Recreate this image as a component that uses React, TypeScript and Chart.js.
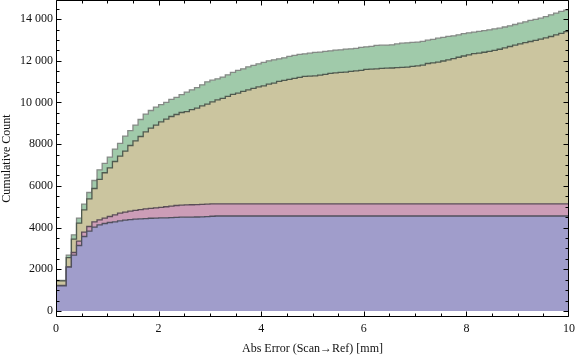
import React, { useEffect, useRef } from "react";
import { Chart, registerables } from "chart.js";

Chart.register(...registerables);

// Bin width 0.1 mm, 100 bins from 0 to 10 mm. Values are stacked cumulative tops.
const binWidth = 0.1;
const xMin = 0;
const xMax = 10;
const yMin = -288;
const yMax = 14916;

const xTicks = [0, 2, 4, 6, 8, 10];
const yTicks = [0, 2000, 4000, 6000, 8000, 10000, 12000, 14000];

const blueTop = [
  1210, 2105, 2680, 3142, 3573, 3832, 4024, 4134, 4197, 4245,
  4278, 4326, 4360, 4385, 4405, 4420, 4435, 4448, 4458, 4465,
  4470, 4478, 4495, 4500, 4503, 4506, 4508, 4515, 4530, 4545,
  4555, 4555, 4555, 4555, 4555, 4555, 4555, 4555, 4555, 4555,
  4555, 4555, 4555, 4555, 4555, 4555, 4555, 4555, 4555, 4555,
  4555, 4555, 4555, 4555, 4555, 4555, 4555, 4555, 4555, 4555,
  4555, 4555, 4555, 4555, 4555, 4555, 4555, 4555, 4555, 4555,
  4555, 4555, 4555, 4555, 4555, 4555, 4555, 4555, 4555, 4555,
  4555, 4555, 4555, 4555, 4555, 4555, 4555, 4555, 4555, 4555,
  4555, 4555, 4555, 4555, 4555, 4555, 4555, 4555, 4555, 4555,
];

const pinkTop = [
  1225, 2120, 2806, 3352, 3784, 4053, 4278, 4370, 4456, 4532,
  4614, 4695, 4743, 4790, 4830, 4865, 4895, 4920, 4945, 4970,
  5000, 5030, 5060, 5075, 5085, 5095, 5105, 5115, 5125, 5135,
  5140, 5140, 5140, 5140, 5140, 5140, 5140, 5140, 5140, 5140,
  5140, 5140, 5140, 5140, 5140, 5140, 5140, 5140, 5140, 5140,
  5140, 5140, 5140, 5140, 5140, 5140, 5140, 5140, 5140, 5140,
  5140, 5140, 5140, 5140, 5140, 5140, 5140, 5140, 5140, 5140,
  5140, 5140, 5140, 5140, 5140, 5140, 5140, 5140, 5140, 5140,
  5140, 5140, 5140, 5140, 5140, 5140, 5140, 5140, 5140, 5140,
  5140, 5140, 5140, 5140, 5140, 5140, 5140, 5140, 5140, 5140,
];

const tanTop = [
  1440, 2560, 3448, 4215, 4853, 5381, 5875, 6315, 6630, 6860,
  7170, 7430, 7670, 7938, 8163, 8370, 8595, 8772, 8916, 9074,
  9204, 9329, 9425, 9520, 9560, 9660, 9730, 9842, 9922, 10034,
  10129, 10193, 10289, 10385, 10449, 10529, 10609, 10673, 10753, 10801,
  10881, 10929, 11009, 11057, 11105, 11153, 11201, 11249, 11265, 11281,
  11313, 11345, 11393, 11425, 11440, 11456, 11488, 11520, 11536, 11584,
  11600, 11616, 11640, 11648, 11655, 11668, 11680, 11700, 11728, 11760,
  11792, 11870, 11900, 11940, 11990, 12040, 12100, 12170, 12230, 12280,
  12340, 12370, 12410, 12450, 12500, 12555, 12620, 12685, 12750, 12810,
  12870, 12925, 12980, 13040, 13100, 13165, 13240, 13320, 13400, 13487,
];

const greenTop = [
  1470, 2680, 3655, 4455, 5127, 5683, 6259, 6772, 7080, 7380,
  7765, 8035, 8390, 8650, 8915, 9185, 9443, 9616, 9779, 9900,
  10010, 10145, 10250, 10380, 10500, 10610, 10710, 10850, 10993, 11073,
  11137, 11217, 11329, 11440, 11536, 11616, 11712, 11776, 11856, 11920,
  12000, 12048, 12096, 12144, 12208, 12256, 12304, 12336, 12368, 12400,
  12416, 12448, 12480, 12512, 12528, 12560, 12576, 12592, 12640, 12672,
  12688, 12735, 12751, 12755, 12767, 12810, 12847, 12860, 12879, 12900,
  12927, 12990, 13030, 13087, 13120, 13167, 13200, 13247, 13300, 13343,
  13380, 13407, 13450, 13487, 13530, 13567, 13620, 13679, 13740, 13807,
  13870, 13934, 13990, 14046, 14120, 14206, 14290, 14366, 14430, 14574,
];

const FONT = '"Liberation Serif", "DejaVu Serif", "Times New Roman", Times, serif';

function toSteps(values: number[]) {
  const pts = [{ x: xMin, y: values[0] }];
  values.forEach((v, i) => pts.push({ x: Math.round((i + 1) * binWidth * 10) / 10, y: v }));
  return pts;
}

function zeroPad(s: any) {
  s.paddingTop = 0;
  s.paddingBottom = 0;
  s.paddingLeft = 0;
  s.paddingRight = 0;
}

const framePlugin = {
  id: "frameTicks",
  afterDraw(chart: any) {
    const { ctx, chartArea: a, scales } = chart;
    const xs = scales.x;
    const ys = scales.y;
    ctx.save();
    ctx.strokeStyle = "#000";
    ctx.lineWidth = 1;
    ctx.beginPath();
    const L = a.left + 0.5, R = a.right - 0.5, T = a.top + 0.5, B = a.bottom - 0.5;
    ctx.moveTo(L, T); ctx.lineTo(R, T); ctx.lineTo(R, B); ctx.lineTo(L, B); ctx.closePath();
    for (let i = 0; i <= 20; i++) {
      const v = i * 0.5;
      const major = i % 4 === 0;
      const len = major ? 5 : 3;
      const px = Math.min(R, Math.round(xs.getPixelForValue(v)) + 0.5);
      ctx.moveTo(px, B); ctx.lineTo(px, B - len);
      ctx.moveTo(px, T); ctx.lineTo(px, T + len);
    }
    for (let i = 0; i <= 29; i++) {
      const v = i * 500;
      const major = i % 4 === 0;
      const len = major ? 5 : 3;
      const py = Math.round(ys.getPixelForValue(v)) + 0.5;
      if (py < a.top || py > a.bottom) continue;
      ctx.moveTo(L, py); ctx.lineTo(L + len, py);
      ctx.moveTo(R, py); ctx.lineTo(R - len, py);
    }
    ctx.stroke();
    ctx.restore();
  },
};

export default function App() {
  const ref = useRef<HTMLCanvasElement | null>(null);
  useEffect(() => {
    document.body.style.margin = "0";
    const canvas = ref.current!;
    const common = { stepped: "before" as const, pointRadius: 0, borderWidth: 1.3, tension: 0 };
    const chart = new Chart(canvas, {
      type: "line",
      data: {
        datasets: [
          { ...common, data: toSteps(blueTop), fill: "origin", backgroundColor: "#A09DCB", borderColor: "#50505e" },
          { ...common, data: toSteps(pinkTop), fill: "-1", backgroundColor: "#CC9DB7", borderColor: "#5a4d57" },
          { ...common, data: toSteps(tanTop), fill: "-1", backgroundColor: "#CBC59F", borderColor: "#4f5a4f" },
          { ...common, data: toSteps(greenTop), fill: "-1", backgroundColor: "#A0CAAA", borderColor: "#858a86" },
        ] as any,
      },
      options: {
        animation: false,
        responsive: false,
        layout: { padding: { top: 0, right: 7, bottom: 0, left: 0 } },
        plugins: { legend: { display: false }, tooltip: { enabled: false } },
        scales: {
          x: {
            type: "linear",
            min: xMin,
            max: xMax,
            grid: { display: false, drawTicks: false },
            border: { display: false },
            ticks: { padding: 5, color: "#111", maxRotation: 0, font: { family: FONT, size: 12 } },
            afterBuildTicks: (s: any) => { s.ticks = xTicks.map((v) => ({ value: v })); },
            afterFit: (s: any) => { s.height = 40; zeroPad(s); },
            title: { display: true, text: "Abs Error (Scan→Ref) [mm]", color: "#111", padding: { top: 0, bottom: 1 }, font: { family: FONT, size: 12 } },
          },
          y: {
            type: "linear",
            min: yMin,
            max: yMax,
            grid: { display: false, drawTicks: false },
            border: { display: false },
            ticks: {
              padding: 3,
              color: "#111",
              font: { family: FONT, size: 12 },
              callback: (v: any) => {
                const n = Number(v);
                if (n >= 10000) {
                  const s = String(n);
                  return s.slice(0, s.length - 3) + " " + s.slice(s.length - 3);
                }
                return String(n);
              },
            },
            afterBuildTicks: (s: any) => { s.ticks = yTicks.map((v) => ({ value: v })); },
            afterFit: (s: any) => { s.width = 56; zeroPad(s); },
            title: { display: true, text: "Cumulative Count", color: "#111", padding: { top: 0, bottom: 0 }, font: { family: FONT, size: 12 } },
          },
        },
      } as any,
      plugins: [framePlugin],
    });
    return () => chart.destroy();
  }, []);
  return <canvas ref={ref} width={576} height={357} style={{ display: "block" }} />;
}
